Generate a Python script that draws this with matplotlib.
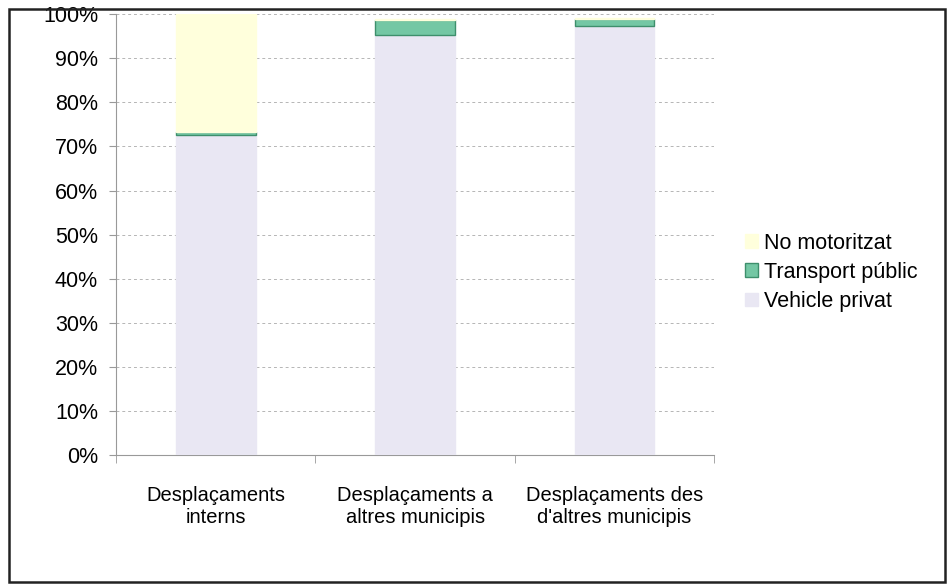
import matplotlib
matplotlib.use("Agg")
import matplotlib.pyplot as plt
from matplotlib.patches import Rectangle
from matplotlib.ticker import FixedLocator, NullFormatter, PercentFormatter

plt.rcParams['font.family'] = ['Liberation Sans', 'DejaVu Sans']

categories = ["Desplaçaments\ninterns", "Desplaçaments a\naltres municipis", "Desplaçaments des\nd'altres municipis"]
vehicle_privat = [72.5, 95.2, 97.3]
transport_public = [0.8, 3.4, 1.7]
no_motoritzat = [26.7, 0.3, 0.2]

series = [
    ("Vehicle privat", vehicle_privat, "#E9E7F3", "#E9E7F3"),
    ("Transport públic", transport_public, "#74C7A4", "#3E8F6C"),
    ("No motoritzat", no_motoritzat, "#FFFFDC", "#FFFFDC"),
]

fig = plt.figure(figsize=(9.52, 5.88), dpi=100)
fig.patches.append(Rectangle((0.009, 0.01), 0.984, 0.975, transform=fig.transFigure,
                             fill=False, edgecolor="#222222", linewidth=1.8))
ax = fig.add_axes([0.122, 0.226, 0.628, 0.75])

x = list(range(len(categories)))
bottom = [0.0] * len(categories)
handles = []
for name, vals, col, ec in series:
    b = ax.bar(x, vals, width=0.4, bottom=bottom, color=col, edgecolor=ec,
               linewidth=1.0, label=name, zorder=3)
    handles.append(b)
    bottom = [bo + v for bo, v in zip(bottom, vals)]

ax.set_xlim(-0.5, len(categories) - 0.5)
ax.set_ylim(0, 100)
ax.yaxis.set_major_locator(FixedLocator(list(range(0, 101, 10))))
ax.yaxis.set_major_formatter(PercentFormatter(decimals=0))
ax.grid(axis='y', linestyle=(0, (3, 3)), color="#B5B5B5", linewidth=0.7, zorder=0)

for s in ['top', 'right']:
    ax.spines[s].set_visible(False)
ax.spines['left'].set_color("#999999")
ax.spines['bottom'].set_color("#999999")

ax.set_xticks(x)
ax.set_xticklabels(categories, fontsize=14.5, linespacing=1.2)
ax.tick_params(axis='x', length=0, pad=22)
ax.set_xticks([i + 0.5 for i in range(-1, len(categories))], minor=True)
ax.xaxis.set_minor_formatter(NullFormatter())
ax.tick_params(axis='x', which='minor', length=6, color="#999999")
ax.tick_params(axis='y', labelsize=15.5, length=5, color="#999999", pad=8)

leg = fig.legend(handles[::-1], [h.get_label() for h in handles[::-1]],
                 loc='center left', bbox_to_anchor=(0.762, 0.537), frameon=False,
                 fontsize=15.5, handlelength=0.6, handleheight=0.6,
                 handletextpad=0.3, labelspacing=0.38)

fig.savefig("out.png", dpi=100)
